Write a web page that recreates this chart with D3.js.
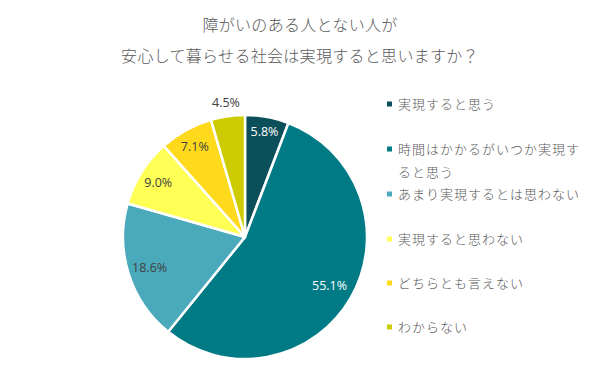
<!DOCTYPE html>
<html>
<head>
<meta charset="utf-8">
<script src="https://cdn.jsdelivr.net/npm/d3@7/dist/d3.min.js"></script>
<style>
  body { margin: 0; background: #fff; }
  svg { display: block; }
</style>
</head>
<body>
<svg id="chart" width="600" height="374"></svg>
<script>
'use strict'

// data
var titleLines = ["障がいのある人とない人が", "安心して暮らせる社会は実現すると思いますか？"];
var categories = [
    ["実現すると思う"],
    ["時間はかかるがいつか実現す", "ると思う"],
    ["あまり実現するとは思わない"],
    ["実現すると思わない"],
    ["どちらとも言えない"],
    ["わからない"]
];
var values = [5.8, 55.1, 18.6, 9.0, 7.1, 4.5];
var colors = ["#0b4f5a", "#007b86", "#4aaabb", "#ffff55", "#ffd91c", "#cccc00"];

var svg = d3.select("#chart");
var cx = 245, cy = 237, radius = 122;
var jpFont = "'Noto Sans CJK JP', sans-serif";
var numFont = "'Open Sans', 'Liberation Sans', sans-serif";

// title
svg.append("g").selectAll("text")
    .data(titleLines)
    .enter().append("text")
    .attr("x", 300)
    .attr("y", function(d, i){ return 31 + i * 31 })
    .attr("text-anchor", "middle")
    .attr("font-family", jpFont)
    .attr("font-size", 16)
    .attr("font-weight", 300)
    .attr("letter-spacing", 0.3)
    .attr("fill", "#595959")
    .text(function(d){ return d });

// pie
var pie = d3.pie().sort(null).value(function(d){ return d });
var arc = d3.arc().innerRadius(0).outerRadius(radius);
var arcs = pie(values);

var g = svg.append("g").attr("transform", "translate(" + cx + "," + cy + ")");

g.selectAll("path")
    .data(arcs)
    .enter().append("path")
    .attr("d", arc)
    .attr("fill", function(d, i){ return colors[i] })
    .attr("stroke", "#fff")
    .attr("stroke-width", 2.5)
    .attr("stroke-linejoin", "round");

// label radius per slice (last one sits outside)
var labelR = [0.88, 0.80, 0.82, 0.84, 0.85, 1.11];
var labelColor = ["#fff", "#fff", "#404040", "#404040", "#404040", "#404040"];

g.selectAll("text.lbl")
    .data(arcs)
    .enter().append("text")
    .attr("class", "lbl")
    .attr("transform", function(d, i){
        var a = (d.startAngle + d.endAngle) / 2;
        var r = radius * labelR[i];
        return "translate(" + (Math.sin(a) * r) + "," + (-Math.cos(a) * r) + ")";
    })
    .attr("text-anchor", "middle")
    .attr("dy", "0.35em")
    .attr("font-family", numFont)
    .attr("font-size", 12.5)
    .attr("fill", function(d, i){ return labelColor[i] })
    .text(function(d){ return d.data.toFixed(1) + "%" });

// legend
var legendY = [104, 149, 194, 239, 283, 327];
var legend = svg.append("g").selectAll("g")
    .data(categories)
    .enter().append("g")
    .attr("transform", function(d, i){ return "translate(387," + legendY[i] + ")" });

legend.append("rect")
    .attr("x", 0).attr("y", -2.5)
    .attr("width", 5).attr("height", 5)
    .attr("fill", function(d, i){ return colors[i] });

legend.each(function(lines){
    var t = d3.select(this).append("text")
        .attr("font-family", jpFont)
        .attr("font-size", 13)
        .attr("font-weight", 300)
        .attr("letter-spacing", 1)
        .attr("fill", "#595959");
    lines.forEach(function(line, j){
        t.append("tspan")
            .attr("x", 11)
            .attr("y", j * 23)
            .attr("dy", "0.38em")
            .text(line);
    });
});
</script>
</body>
</html>
